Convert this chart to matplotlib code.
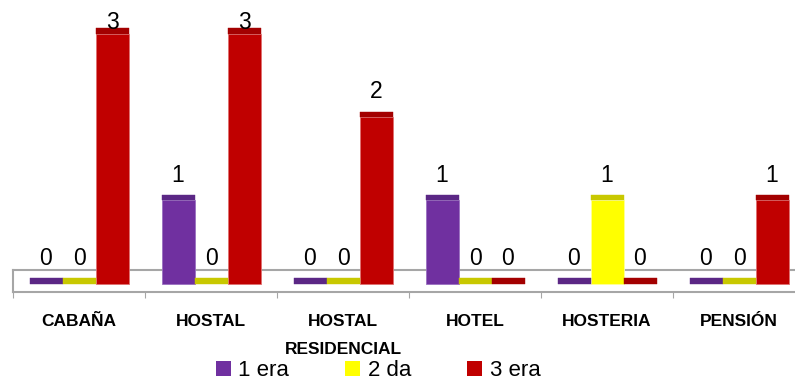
import matplotlib
matplotlib.use("Agg")
import matplotlib.pyplot as plt
from matplotlib.patches import Patch

# === Data ===
categories = ["CABAÑA", "HOSTAL", "HOSTAL\nRESIDENCIAL", "HOTEL", "HOSTERIA", "PENSIÓN"]
series_names = ["1 era", "2 da", "3 era"]
era_1 = [0, 1, 0, 1, 0, 0]
da_2 = [0, 0, 0, 0, 1, 0]
era_3 = [3, 3, 2, 0, 0, 1]
series_values = [era_1, da_2, era_3]

body_colors = ["#7030A0", "#FFFF00", "#C00000"]
cap_colors = ["#5B2785", "#C8C800", "#A30000"]
edge_colors = ["#9A70C0", "#FFFF99", "#E07070"]

plt.rcParams["font.family"] = ["Liberation Sans", "DejaVu Sans"]

W, H = 795, 383
fig = plt.figure(figsize=(W / 100, H / 100), dpi=100)

# axes placed in pixel terms: zero line at y=278.3, 83.3 px per unit
px_left, px_right = 13, 805
px_bottom, px_top = 292, 0
y0_px, unit_px = 278.3, 83.3
ax = fig.add_axes([px_left / W, (H - px_bottom) / H,
                   (px_right - px_left) / W, (px_bottom - px_top) / H])
ax.set_xlim(-0.5, 5.5)
ax.set_ylim(-(px_bottom - y0_px) / unit_px, (y0_px - px_top) / unit_px)
for s in ax.spines.values():
    s.set_visible(False)
ax.set_yticks([])

# === Floor (open on the right, runs off the picture) ===
floor_top = (y0_px - 269.5) / unit_px
floor_bot = ax.get_ylim()[0]
floor_kw = dict(color="#A6A6A6", linewidth=1.5, zorder=1, clip_on=False)
ax.plot([-0.5, 5.5], [floor_top, floor_top], **floor_kw)
ax.plot([-0.5, 5.5], [floor_bot, floor_bot], **floor_kw)
ax.plot([-0.5, -0.5], [floor_bot, floor_top], **floor_kw)

# === Bars ===
cap = 5.3 / unit_px
bw = 0.25
for j, vals in enumerate(series_values):
    for i, v in enumerate(vals):
        x = i + (j - 1) * bw
        if v > 0:
            ax.bar(x, v, width=bw, bottom=-cap, color=body_colors[j],
                   edgecolor=edge_colors[j], linewidth=0.6, zorder=3)
        ax.bar(x, cap, width=bw, bottom=v - cap, color=cap_colors[j],
               edgecolor=cap_colors[j], linewidth=0.3, zorder=4)
        ly = min(v + 0.16, 2.99)
        ax.text(x, ly, str(v), ha="center", va="baseline", fontsize=16.5, zorder=5)

# === Axis ticks and labels ===
ax.set_xticks(range(len(categories)))
ax.set_xticklabels(categories, fontsize=12.5, fontweight="bold", linespacing=2.1)
ax.tick_params(axis="x", which="major", length=0, pad=16)
ax.set_xticks([i - 0.5 for i in range(len(categories) + 1)], minor=True)
ax.tick_params(axis="x", which="minor", length=4.5, width=0.8, color="#A6A6A6")

# === Legend ===
handles = [Patch(facecolor=c, edgecolor="none") for c in body_colors]
fig.legend(handles, series_names, loc="center", ncol=3,
           bbox_to_anchor=(378 / W, (H - 370.5) / H), frameon=False,
           fontsize=16, handlelength=0.68, handleheight=0.68,
           handletextpad=0.35, columnspacing=2.5, borderpad=0)

fig.savefig("out.png", dpi=100)
